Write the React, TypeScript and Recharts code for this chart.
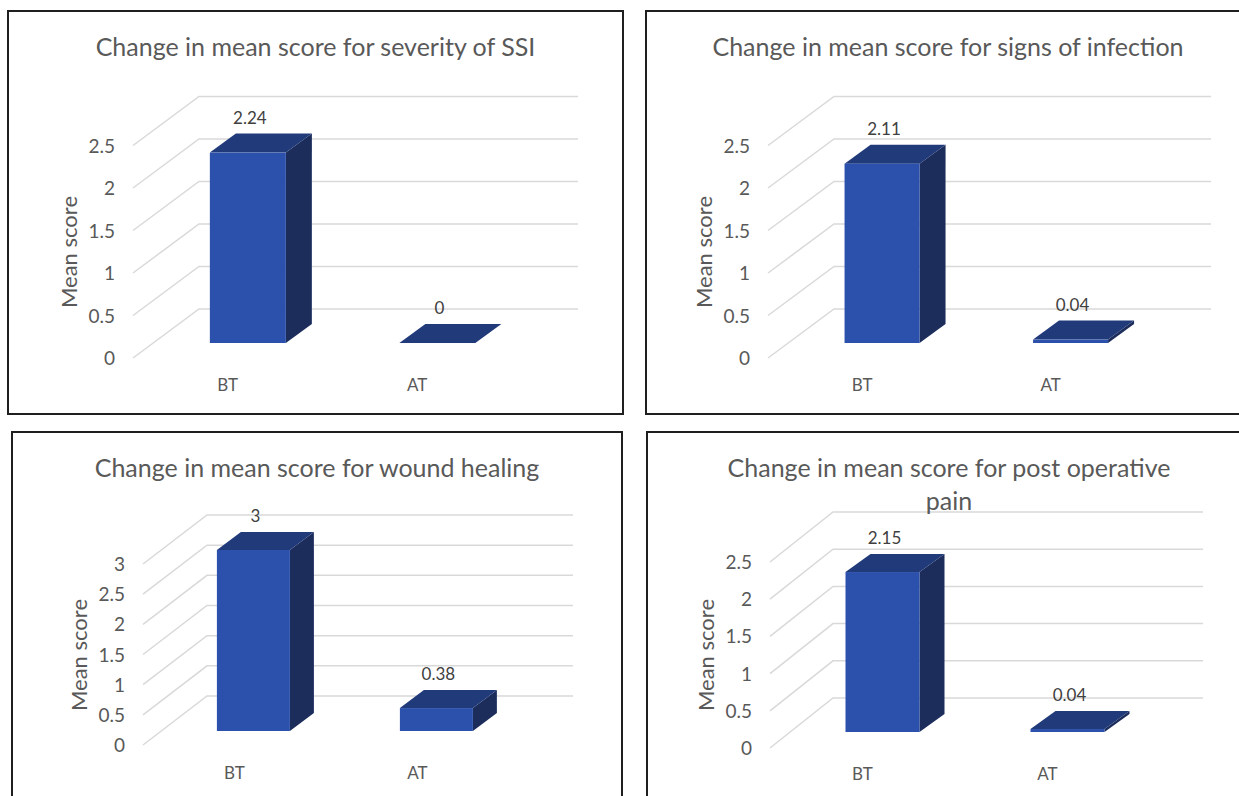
import { BarChart, Bar, XAxis, YAxis, CartesianGrid, LabelList } from "recharts";

const categories = ["BT", "AT"];
const ssiSeverity = [2.24, 0];
const infectionSigns = [2.11, 0.04];
const woundHealing = [3, 0.38];
const postOpPain = [2.15, 0.04];
const ticksTo25 = [0, 0.5, 1, 1.5, 2, 2.5];
const ticksTo3 = [0, 0.5, 1, 1.5, 2, 2.5, 3];

const FONT = "Lato, 'Open Sans', sans-serif";
const TEXT = "#595959";
const FRONT = "#2c51ad";
const TOP = "#213a7a";
const SIDE = "#1c2d5c";
const GRID = "#d9d9d9";

interface Geo {
  left: number;
  top: number;
  width: number;
  height: number;
  plotLeft: number;
  plotWidth: number;
  plotTop: number;
  plotBottom: number;
  front: [number, number];
  back: [number, number];
  depth: [number, number];
}

interface PanelProps {
  title: string[];
  values: number[];
  ticks: number[];
  g: Geo;
}

const Panel = ({ title, values, ticks, g }: PanelProps) => {
  const data = categories.map((name, i) => ({ name, value: values[i] }));
  const [fx, fy] = g.front;
  const [bx, by] = g.back;
  const [dx, dy] = g.depth;
  const plotRight = g.plotLeft + g.plotWidth;

  // floor/back-wall line: front edge -> back wall -> across
  const gridLine = (p: any) => {
    const y = p.y1;
    const pts = `${g.plotLeft + fx},${y + fy} ${g.plotLeft + bx},${y + by} ${plotRight + bx},${y + by}`;
    return <polyline key={p.key} points={pts} fill="none" stroke={GRID} strokeWidth={1.5} />;
  };

  const yTick = (p: any) => (
    <text
      x={g.plotLeft + fx - 18}
      y={p.y + fy + 7}
      textAnchor="end"
      fontFamily={FONT}
      fontSize={19}
      fill={TEXT}
    >
      {p.payload.value}
    </text>
  );

  const xTick = (p: any) => (
    <text
      x={p.x + fx}
      y={g.plotBottom + 48}
      textAnchor="middle"
      fontFamily={FONT}
      fontSize={17}
      fill={TEXT}
    >
      {p.payload.value}
    </text>
  );

  const box = (p: any) => {
    const { x, y, width, height } = p;
    const bottom = y + height;
    return (
      <g>
        <polygon
          points={`${x + width},${y} ${x + width + dx},${y + dy} ${x + width + dx},${bottom + dy} ${x + width},${bottom}`}
          fill={SIDE}
        />
        <polygon
          points={`${x},${y} ${x + dx},${y + dy} ${x + width + dx},${y + dy} ${x + width},${y}`}
          fill={TOP}
        />
        <rect x={x} y={y} width={width} height={Math.max(height, 0.01)} fill={FRONT} />
      </g>
    );
  };

  const valueLabel = (p: any) => {
    const vb = p.viewBox ?? p;
    const { x, y, width } = vb;
    return (
      <text
        x={x + width / 2 + 2}
        y={y + dy - 10}
        textAnchor="middle"
        fontFamily={FONT}
        fontSize={17}
        fill="#404040"
      >
        {String(p.value)}
      </text>
    );
  };

  return (
    <div style={{ position: "absolute", left: g.left, top: g.top, width: g.width, height: g.height }}>
      <div style={{ position: "absolute", left: 0, top: 0 }}>
        <BarChart
          width={g.width}
          height={g.height}
          data={data}
          barCategoryGap="30%"
          margin={{
            top: g.plotTop,
            bottom: g.height - g.plotBottom - 1,
            left: g.plotLeft - 1,
            right: g.width - plotRight,
          }}
        >
          <CartesianGrid vertical={false} horizontal={gridLine} />
          <XAxis
            dataKey="name"
            height={1}
            interval={0}
            axisLine={false}
            tickLine={false}
            tick={xTick}
          />
          <YAxis
            width={1}
            domain={[0, ticks[ticks.length - 1]]}
            ticks={ticks}
            interval={0}
            axisLine={false}
            tickLine={false}
            tick={yTick}
          />
          <Bar dataKey="value" isAnimationActive={false} shape={box}>
            <LabelList dataKey="value" content={valueLabel} />
          </Bar>
        </BarChart>
      </div>
      <div
        style={{
          position: "absolute",
          left: 0,
          right: 0,
          top: 20,
          textAlign: "center",
          fontFamily: FONT,
          fontSize: 25,
          lineHeight: "33px",
          color: TEXT,
        }}
      >
        {title.map((line) => (
          <div key={line}>{line}</div>
        ))}
      </div>
      <div
        style={{
          position: "absolute",
          left: g.plotLeft + fx - 65,
          top: (g.plotTop + g.plotBottom) / 2 + fy,
          transform: "translate(-50%, -50%) rotate(-90deg)",
          whiteSpace: "nowrap",
          fontFamily: FONT,
          fontSize: 22,
          color: TEXT,
        }}
      >
        Mean score
      </div>
      <div
        style={{
          position: "absolute",
          inset: 0,
          border: "2px solid #1f1f1f",
          boxSizing: "border-box",
          pointerEvents: "none",
        }}
      />
    </div>
  );
};

const geoSsi: Geo = {
  left: 7, top: 10, width: 617, height: 405,
  plotLeft: 146, plotWidth: 379, plotTop: 120.5, plotBottom: 333,
  front: [-20, 15], back: [46, -34], depth: [26, -19],
};
const geoInfection: Geo = {
  left: 645, top: 10, width: 606, height: 405,
  plotLeft: 143, plotWidth: 377, plotTop: 120.5, plotBottom: 333,
  front: [-20, 15], back: [46, -34], depth: [26, -19],
};
const geoWound: Geo = {
  left: 11, top: 431, width: 612, height: 400,
  plotLeft: 151, plotWidth: 366, plotTop: 119, plotBottom: 300,
  front: [-19, 14], back: [45, -35], depth: [24, -18],
};
const geoPain: Geo = {
  left: 646, top: 431, width: 606, height: 400,
  plotLeft: 144, plotWidth: 370, plotTop: 115, plotBottom: 301,
  front: [-20, 16], back: [43, -34], depth: [25, -18],
};

export default function App() {
  return (
    <div
      style={{
        position: "fixed",
        left: 0,
        top: 0,
        width: 1239,
        height: 796,
        overflow: "hidden",
        background: "#fff",
      }}
    >
      <Panel title={["Change in mean score for severity of SSI"]} values={ssiSeverity} ticks={ticksTo25} g={geoSsi} />
      <Panel title={["Change in mean score for signs of infection"]} values={infectionSigns} ticks={ticksTo25} g={geoInfection} />
      <Panel title={["Change in mean score for wound healing"]} values={woundHealing} ticks={ticksTo3} g={geoWound} />
      <Panel title={["Change in mean score for post operative", "pain"]} values={postOpPain} ticks={ticksTo25} g={geoPain} />
    </div>
  );
}
